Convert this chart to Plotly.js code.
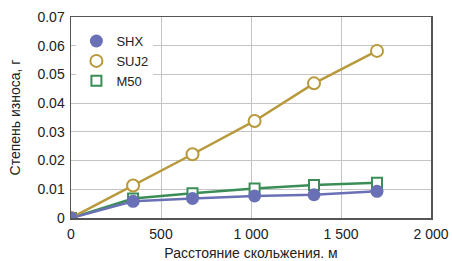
<!DOCTYPE html>
<html><head><meta charset="utf-8">
<script src="https://cdn.plot.ly/plotly-3.0.1.min.js"></script>
<style>html,body{margin:0;padding:0;background:#fff}#chart{width:452px;height:261px}</style>
</head><body><div id="chart"></div>
<script>
const distance = [0, 345, 675, 1020, 1350, 1700];
const shx = [0, 0.0058, 0.0068, 0.0077, 0.0081, 0.0093];
const suj2 = [0, 0.0113, 0.0222, 0.0338, 0.0469, 0.0582];
const m50 = [0, 0.0068, 0.0086, 0.0103, 0.0115, 0.0123];
const names = ['SHX', 'SUJ2', 'M50'];
const xTicks = [0, 500, 1000, 1500, 2000];
const xTickText = ['0', '500', '1 000', '1 500', '2 000'];
const yTicks = [0, 0.01, 0.02, 0.03, 0.04, 0.05, 0.06, 0.07];
const yTickText = ['0', '0.01', '0.02', '0.03', '0.04', '0.05', '0.06', '0.07'];

const cBlue = '#6a70b6', cGold = '#b8993c', cGreen = '#3b8d58';
const series = [
  {y: m50, name: names[2], color: cGreen, marker: {symbol: 'square', size: 10, line: {width: 2}}},
  {y: suj2, name: names[1], color: cGold, marker: {symbol: 'circle', size: 12, line: {width: 2}}},
  {y: shx, name: names[0], color: cBlue, marker: {symbol: 'circle', size: 13}, filled: true}
];
const traces = [];
series.forEach(s => {
  traces.push({x: distance, y: s.y, mode: 'lines', line: {color: s.color, width: 2.5}, showlegend: false, hoverinfo: 'skip'});
});
const legendOrder = [3, 2, 1];
series.forEach((s, i) => {
  const mk = Object.assign({}, s.marker);
  if (s.filled) { mk.color = s.color; }
  else { mk.color = '#fff'; mk.line = {color: s.color, width: s.marker.line.width}; }
  traces.push({x: distance, y: s.y, mode: 'markers', name: s.name, marker: mk, legendrank: legendOrder[i]});
});

const layout = {
  width: 452, height: 261,
  margin: {l: 71, r: 21, t: 17, b: 43},
  paper_bgcolor: '#fff', plot_bgcolor: '#fff',
  font: {family: 'Liberation Sans, Arial, sans-serif', size: 14, color: '#222'},
  xaxis: {
    range: [0, 2000], tickvals: xTicks, ticktext: xTickText,
    showgrid: true, gridcolor: '#c4c4c4', gridwidth: 1,
    showline: true, linecolor: '#555', linewidth: 1.5, mirror: true,
    zeroline: false, ticks: '', ticklen: 0, ticklabelstandoff: 3,
    title: {text: 'Расстояние скольжения. м', font: {size: 14}, standoff: 9}
  },
  yaxis: {
    range: [0, 0.07], tickvals: yTicks, ticktext: yTickText,
    showgrid: true, gridcolor: '#c4c4c4', gridwidth: 1,
    showline: true, linecolor: '#555', linewidth: 1.5, mirror: true,
    zeroline: false, ticks: '', ticklabelstandoff: 2,
    title: {text: 'Степень износа, г', font: {size: 14}, standoff: 13}
  },
  legend: {x: 0.015, y: 0.955, xanchor: 'left', yanchor: 'top', bgcolor: '#fff',
    font: {size: 13}, tracegroupgap: 0, itemwidth: 30},
  showlegend: true
};
Plotly.newPlot('chart', traces, layout, {displayModeBar: false, staticPlot: true});
</script></body></html>
